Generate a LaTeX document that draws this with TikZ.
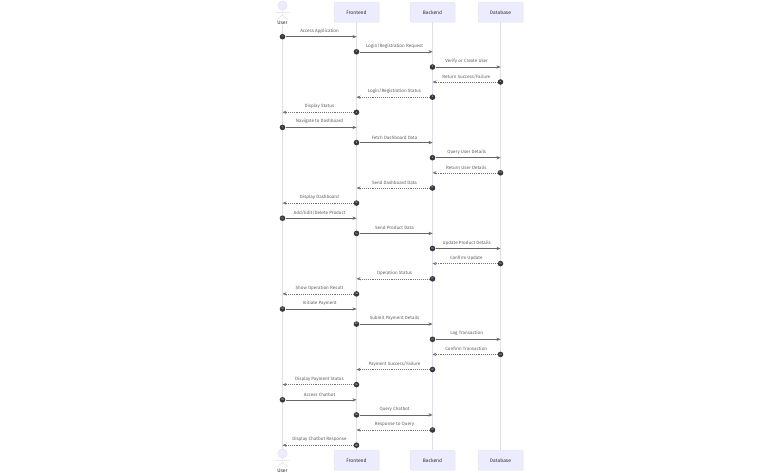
\documentclass[tikz,border=0pt]{standalone}
\usepackage{fontspec}
\setmainfont{Fira Sans}
\usetikzlibrary{arrows.meta}
\definecolor{boxfill}{HTML}{ECECFF}
\definecolor{boxline}{HTML}{E4DFF8}
\definecolor{lifecolor}{HTML}{E2DCF6}

\begin{document}
\begin{tikzpicture}[%
    x=1pt,
    y=-1pt,
    >={Stealth[length=4pt,width=3.2pt]},
    actorbox/.style={draw=boxline, fill=boxfill, line width=0.5pt, rounded corners=0.6pt,
      minimum width=45pt, minimum height=19.5pt, inner sep=0pt, font=\fontsize{5}{6}\selectfont, text=black!80},
    actorname/.style={inner sep=0pt, font=\fontsize{5}{6}\selectfont, text=black!80},
    stick/.style={draw=lifecolor, line width=0.5pt},
    head/.style={circle, draw=lifecolor, fill=boxfill, line width=0.5pt, minimum size=9pt, inner sep=0pt},
    lifeline/.style={draw=lifecolor, line width=0.7pt},
    seqnum/.style={circle, fill=black!78, text=white, minimum size=5.6pt, inner sep=0pt, font=\fontsize{2.4}{2.6}\selectfont},
    msg/.style={->, draw=black!60, line width=0.5pt},
    reply/.style={->, draw=black!55, line width=0.4pt, dash pattern=on 1pt off 0.9pt},
    msgtext/.style={pos=0.48, above=3.2pt, inner sep=0pt, font=\fontsize{4.6}{5}\selectfont, text=black!62}
  ]

  \useasboundingbox (0,0) rectangle (783,473);

  % participants
  \node[actorbox] (frontTop) at (356.5,12.5) {Frontend};
  \node[actorbox] (backTop) at (432.5,12.5) {Backend};
  \node[actorbox] (dataTop) at (500.5,12.5) {Database};
  \node[actorbox] (frontBot) at (356.5,460.3) {Frontend};
  \node[actorbox] (backBot) at (432.5,460.3) {Backend};
  \node[actorbox] (dataBot) at (500.5,460.3) {Database};

  % user, top and bottom
  \node[head] (userTop) at (282.5,5.5) {};
  \node[actorname] (userTopName) at (282.5,23) {User};
  \coordinate (userTopHip) at (282.5,15);
  \coordinate (userTopArmL) at (275.5,12.5);
  \coordinate (userTopArmR) at (289.5,12.5);
  \coordinate (userTopLegL) at (277,20);
  \coordinate (userTopLegR) at (288,20);
  \node[head] (userBot) at (282.5,453.5) {};
  \node[actorname] (userBotName) at (282.5,471) {User};
  \coordinate (userBotHip) at (282.5,462.5);
  \coordinate (userBotArmL) at (275.5,460.5);
  \coordinate (userBotArmR) at (289.5,460.5);
  \coordinate (userBotLegL) at (277,467);
  \coordinate (userBotLegR) at (288,467);
  \draw[stick] (userTop) -- (userTopHip) (userTopArmL) -- (userTopArmR)
               (userTopLegL) -- (userTopHip) -- (userTopLegR);
  \draw[stick] (userBot) -- (userBotHip) (userBotArmL) -- (userBotArmR)
               (userBotLegL) -- (userBotHip) -- (userBotLegR);

  \path[lifeline]
              (userTopName) edge (userBot)
              (frontTop)    edge (frontBot)
              (backTop)     edge (backBot)
              (dataTop)     edge (dataBot);

  % message start dots
  \node[seqnum] (n1) at (282.5,36.7) {1};
  \node[seqnum] (n2) at (356.5,51.8) {2};
  \node[seqnum] (n3) at (432.5,67) {3};
  \node[seqnum] (n4) at (500.5,82) {4};
  \node[seqnum] (n5) at (432.5,97.2) {5};
  \node[seqnum] (n6) at (356.5,112.3) {6};
  \node[seqnum] (n7) at (282.5,127.4) {7};
  \node[seqnum] (n8) at (356.5,142.6) {8};
  \node[seqnum] (n9) at (432.5,157.7) {9};
  \node[seqnum] (n10) at (500.5,172.8) {10};
  \node[seqnum] (n11) at (432.5,188) {11};
  \node[seqnum] (n12) at (356.5,203.1) {12};
  \node[seqnum] (n13) at (282.5,218.2) {13};
  \node[seqnum] (n14) at (356.5,233.4) {14};
  \node[seqnum] (n15) at (432.5,248.5) {15};
  \node[seqnum] (n16) at (500.5,263.6) {16};
  \node[seqnum] (n17) at (432.5,278.8) {17};
  \node[seqnum] (n18) at (356.5,293.9) {18};
  \node[seqnum] (n19) at (282.5,309) {19};
  \node[seqnum] (n20) at (356.5,324.1) {20};
  \node[seqnum] (n21) at (432.5,339.3) {21};
  \node[seqnum] (n22) at (500.5,354.4) {22};
  \node[seqnum] (n23) at (432.5,369.5) {23};
  \node[seqnum] (n24) at (356.5,384.6) {24};
  \node[seqnum] (n25) at (282.5,399.8) {25};
  \node[seqnum] (n26) at (356.5,414.9) {26};
  \node[seqnum] (n27) at (432.5,430) {27};
  \node[seqnum] (n28) at (356.5,445.2) {28};

  % message ends
  \coordinate (e1) at (356.5,36.7);
  \coordinate (e2) at (432.5,51.8);
  \coordinate (e3) at (500.5,67);
  \coordinate (e4) at (432.5,82);
  \coordinate (e5) at (356.5,97.2);
  \coordinate (e6) at (282.5,112.3);
  \coordinate (e7) at (356.5,127.4);
  \coordinate (e8) at (432.5,142.6);
  \coordinate (e9) at (500.5,157.7);
  \coordinate (e10) at (432.5,172.8);
  \coordinate (e11) at (356.5,188);
  \coordinate (e12) at (282.5,203.1);
  \coordinate (e13) at (356.5,218.2);
  \coordinate (e14) at (432.5,233.4);
  \coordinate (e15) at (500.5,248.5);
  \coordinate (e16) at (432.5,263.6);
  \coordinate (e17) at (356.5,278.8);
  \coordinate (e18) at (282.5,293.9);
  \coordinate (e19) at (356.5,309);
  \coordinate (e20) at (432.5,324.1);
  \coordinate (e21) at (500.5,339.3);
  \coordinate (e22) at (432.5,354.4);
  \coordinate (e23) at (356.5,369.5);
  \coordinate (e24) at (282.5,384.6);
  \coordinate (e25) at (356.5,399.8);
  \coordinate (e26) at (432.5,414.9);
  \coordinate (e27) at (356.5,430);
  \coordinate (e28) at (282.5,445.2);

  \path
              (n1)  edge [msg  ] node[msgtext] {Access Application} (e1)
              (n2)  edge [msg  ] node[msgtext] {Login/Registration Request} (e2)
              (n3)  edge [msg  ] node[msgtext] {Verify or Create User} (e3)
              (n4)  edge [reply] node[msgtext] {Return Success/Failure} (e4)
              (n5)  edge [reply] node[msgtext] {Login/Registration Status} (e5)
              (n6)  edge [reply] node[msgtext] {Display Status} (e6)
              (n7)  edge [msg  ] node[msgtext] {Navigate to Dashboard} (e7)
              (n8)  edge [msg  ] node[msgtext] {Fetch Dashboard Data} (e8)
              (n9)  edge [msg  ] node[msgtext] {Query User Details} (e9)
              (n10) edge [reply] node[msgtext] {Return User Details} (e10)
              (n11) edge [reply] node[msgtext] {Send Dashboard Data} (e11)
              (n12) edge [reply] node[msgtext] {Display Dashboard} (e12)
              (n13) edge [msg  ] node[msgtext] {Add/Edit/Delete Product} (e13)
              (n14) edge [msg  ] node[msgtext] {Send Product Data} (e14)
              (n15) edge [msg  ] node[msgtext] {Update Product Details} (e15)
              (n16) edge [reply] node[msgtext] {Confirm Update} (e16)
              (n17) edge [reply] node[msgtext] {Operation Status} (e17)
              (n18) edge [reply] node[msgtext] {Show Operation Result} (e18)
              (n19) edge [msg  ] node[msgtext] {Initiate Payment} (e19)
              (n20) edge [msg  ] node[msgtext] {Submit Payment Details} (e20)
              (n21) edge [msg  ] node[msgtext] {Log Transaction} (e21)
              (n22) edge [reply] node[msgtext] {Confirm Transaction} (e22)
              (n23) edge [reply] node[msgtext] {Payment Success/Failure} (e23)
              (n24) edge [reply] node[msgtext] {Display Payment Status} (e24)
              (n25) edge [msg  ] node[msgtext] {Access Chatbot} (e25)
              (n26) edge [msg  ] node[msgtext] {Query Chatbot} (e26)
              (n27) edge [reply] node[msgtext] {Response to Query} (e27)
              (n28) edge [reply] node[msgtext] {Display Chatbot Response} (e28);
\end{tikzpicture}
\end{document}
